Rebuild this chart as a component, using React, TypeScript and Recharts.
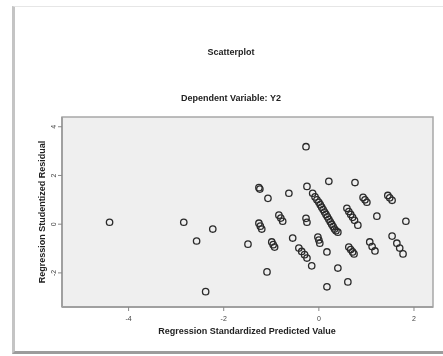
import { ScatterChart, Scatter, XAxis, YAxis, ReferenceArea } from "recharts";

// regression standardized predicted value (x) and studentized residual (y)
const predicted = [
  -4.4, -2.84, -2.57, -2.23, -2.38, -0.27,
  -1.26, -1.24, -1.07, -0.63, -0.25, 0.21, 0.76,
  0.93, 0.97, 1.01, 1.45, 1.49, 1.54, 1.22, 1.83,
  -1.26, -1.23, -1.2, -0.84, -0.8, -0.76, -0.27, -0.25,
  -0.13, -0.08, -0.04, 0.0, 0.03, 0.06, 0.09, 0.12, 0.15, 0.18, 0.21, 0.24, 0.27, 0.3, 0.33, 0.36, 0.4,
  0.59, 0.63, 0.67, 0.71, 0.75, 0.82,
  -1.49, -0.99, -0.96, -0.93, -0.55, -0.42, -0.36, -0.3, -0.25,
  -0.02, 0.0, 0.02, 0.17, 0.63, 0.67, 0.71, 0.74,
  1.07, 1.12, 1.18, 1.54, 1.64, 1.7, 1.77,
  -0.15, 0.4, 0.17, 0.61, -1.09,
];
const residual = [
  0.08, 0.08, -0.69, -0.2, -2.77, 3.18,
  1.5, 1.44, 1.06, 1.27, 1.55, 1.76, 1.71,
  1.1, 1.0, 0.9, 1.18, 1.08, 0.98, 0.33, 0.12,
  0.04, -0.08, -0.2, 0.37, 0.25, 0.12, 0.24, 0.08,
  1.27, 1.12, 1.0, 0.9, 0.8, 0.7, 0.6, 0.5, 0.4, 0.3, 0.2, 0.1, 0.0, -0.1, -0.2, -0.27, -0.33,
  0.65, 0.52, 0.4, 0.28, 0.16, -0.04,
  -0.82, -0.73, -0.84, -0.94, -0.57, -0.98, -1.12, -1.25, -1.39,
  -0.53, -0.65, -0.78, -1.14, -0.94, -1.04, -1.14, -1.22,
  -0.73, -0.92, -1.1, -0.49, -0.78, -0.98, -1.22,
  -1.71, -1.8, -2.57, -2.37, -1.96,
];
const xTicks = [-4, -2, 0, 2];
const yTicks = [-2, 0, 2, 4];

const points = predicted.map((x, i) => ({ x, y: residual[i] }));

const font = "'Liberation Sans', Arial, sans-serif";

function OpenCircle(props: any) {
  const { cx, cy } = props;
  return <circle cx={cx} cy={cy} r={3.2} fill="none" stroke="#2a2a2a" strokeWidth={1.3} />;
}

function YTick(props: any) {
  const { x, y, payload } = props;
  return (
    <text x={x} y={y} transform={`rotate(-90 ${x} ${y})`} textAnchor="middle" fontSize={7} fill="#444" fontFamily={font}>
      {payload.value}
    </text>
  );
}

function XTick(props: any) {
  const { x, y, payload } = props;
  return (
    <text x={x} y={y + 8} textAnchor="middle" fontSize={7} fill="#444" fontFamily={font}>
      {payload.value}
    </text>
  );
}

const textStyle = {
  position: "absolute" as const,
  fontFamily: font,
  fontWeight: "bold" as const,
  fontSize: 9,
  color: "#222",
  whiteSpace: "nowrap" as const,
};

export default function App() {
  return (
    <div style={{ position: "absolute", left: 0, top: 0, width: 443, height: 356, background: "#fff", overflow: "hidden", filter: "blur(0.6px)" }}>
      <div
        style={{
          position: "absolute",
          left: 12,
          top: 6,
          width: 440,
          height: 344,
          borderTop: "1px solid #e6e6e6",
          borderLeft: "3px solid #c4c4c4",
          borderBottom: "3px solid #9c9c9c",
          background: "#fff",
        }}
      />
      <div style={{ ...textStyle, left: 0, width: 462, top: 47, textAlign: "center" }}>Scatterplot</div>
      <div style={{ ...textStyle, left: 0, width: 462, top: 93, textAlign: "center", fontWeight: 600 }}>
        Dependent Variable: Y2
      </div>
      <div style={{ position: "absolute", left: 0, top: 0 }}>
        <ScatterChart width={443} height={356} margin={{ top: 117, right: 10, bottom: 29, left: 42 }}>
          <ReferenceArea x1={-5.4} x2={2.4} y1={-3.4} y2={4.4} fill="#efefef" fillOpacity={1} stroke="#a8a8a8" strokeWidth={1.5} />
          <XAxis
            type="number"
            dataKey="x"
            domain={[-5.4, 2.4]}
            ticks={xTicks}
            height={20}
            tick={<XTick />}
            tickSize={4}
            tickLine={{ stroke: "#888" }}
            axisLine={{ stroke: "#a0a0a0", strokeWidth: 2 }}
          />
          <YAxis
            type="number"
            dataKey="y"
            domain={[-3.4, 4.4]}
            ticks={yTicks}
            width={20}
            tick={<YTick />}
            tickSize={4}
            tickLine={{ stroke: "#888" }}
            axisLine={{ stroke: "#a0a0a0", strokeWidth: 2 }}
          />
          <Scatter data={points} shape={<OpenCircle />} isAnimationActive={false} />
        </ScatterChart>
      </div>
      <div style={{ ...textStyle, left: 0, width: 494, top: 326, textAlign: "center" }}>
        Regression Standardized Predicted Value
      </div>
      <div
        style={{
          ...textStyle,
          left: 42,
          top: 212,
          transform: "translate(-50%, -50%) rotate(-90deg)",
        }}
      >
        Regression Studentized Residual
      </div>
    </div>
  );
}
